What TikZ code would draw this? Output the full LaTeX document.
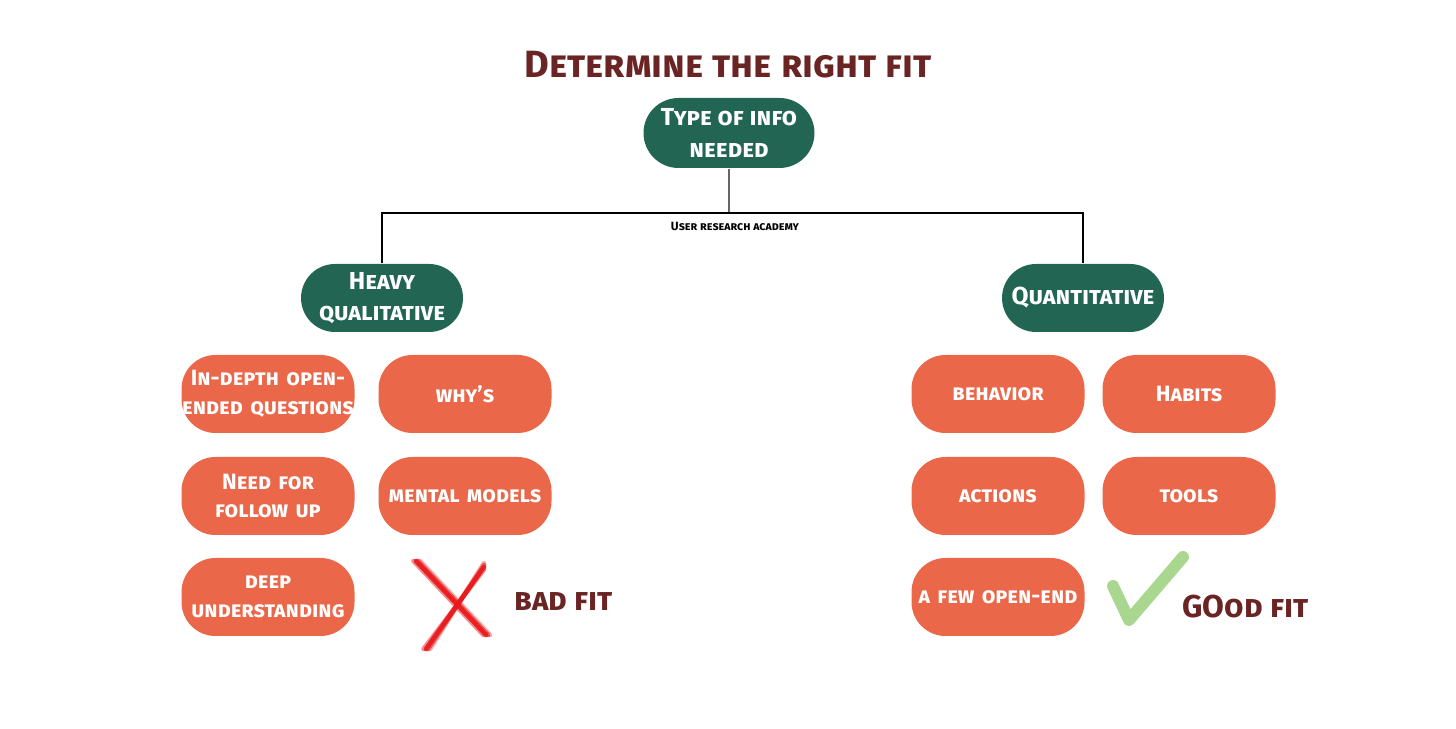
\documentclass[tikz,border=0pt]{standalone}
\usepackage{fontspec}
\setmainfont{Fira Sans}
\usetikzlibrary{positioning,shapes.misc,calc}
\definecolor{fitgreen}{HTML}{226552}
\definecolor{fitorange}{HTML}{EA6749}
\definecolor{fitmaroon}{HTML}{6B2424}
\definecolor{fitred}{HTML}{E8191B}
\definecolor{fitcheck}{HTML}{A9D78F}
\newcommand{\fitline}[1]{\makebox[1.69cm]{#1}}
\begin{document}
\begin{tikzpicture}[
    catbox/.style={rounded rectangle, fill=fitgreen, text=white, minimum width=1.69cm,
                 minimum height=0.68cm, align=center, font=\fontsize{7}{9}\selectfont\bfseries\scshape, inner sep=1pt},
    itembox/.style={rectangle, rounded corners=0.34cm, fill=fitorange, text=white, minimum width=1.73cm,
                 text width=1.69cm, minimum height=0.78cm, align=center,
                 font=\fontsize{6.3}{8.2}\selectfont\bfseries\scshape, inner sep=0.2mm},
    fitlbl/.style={font=\fontsize{9}{11}\selectfont\bfseries\scshape, text=fitmaroon},
    link/.style={line width=0.3pt}
]
    \useasboundingbox (0,0) rectangle (14.56,7.28);

    \node[font=\fontsize{10.8}{13}\selectfont\bfseries\scshape, text=fitmaroon] (title) at (7.28,6.63) {Determine the right fit};

    \node[catbox, minimum width=1.78cm, minimum height=0.70cm] (root)  at (7.29,5.95) {Type of info\\needed};
    \node[catbox] (heavy) at (3.82,4.30) {Heavy\\qualitative};
    \node[catbox] (quant) at (10.83,4.30) {Quantitative};

    \coordinate (bus) at (7.29,5.15);
    \draw[link, gray!80!black] (root.south) -- (bus);
    \draw[link] (heavy.north) -- (heavy.north |- bus) -- (quant.north |- bus) -- (quant.north);
    \node[font=\fontsize{3.4}{4}\selectfont\bfseries\scshape] (credit) at (7.35,5.02) {User research academy};

    % qualitative side
    \node[itembox] (depth)  at (2.68,3.34) {\fitline{In-depth open-}\\\fitline{ended questions}};
    \node[itembox] (whys)   at (4.65,3.34) {why's};
    \node[itembox] (follow) at (2.68,2.32) {Need for\\follow up};
    \node[itembox] (mental) at (4.65,2.32) {mental models};
    \node[itembox] (deep)   at (2.68,1.31) {deep\\understanding};

    % quantitative side
    \node[itembox] (behav)  at (9.98,3.34) {behavior};
    \node[itembox] (habits) at (11.89,3.34) {Habits};
    \node[itembox] (acts)   at (9.98,2.32) {actions};
    \node[itembox] (tools)  at (11.89,2.32) {tools};
    \node[itembox] (few)    at (9.98,1.31) {a few open-end};

    % bad fit mark
    \coordinate (cross) at (4.50,1.23);
    \foreach \d/\o in {0/0.9,0.02/0.6,-0.025/0.5,0.04/0.35} {
        \draw[fitred, opacity=\o, line width=1.3pt, line cap=round]
            ($(cross)+(-0.34+\d,0.44)$) -- ($(cross)+(0.36+\d,-0.30)$);
        \draw[fitred, opacity=\o, line width=1.3pt, line cap=round]
            ($(cross)+(0.34,0.38+\d)$) -- ($(cross)+(-0.24+\d,-0.44)$);
    }
    \node[fitlbl, anchor=west] (bad) at (5.02,1.26) {bad fit};

    % good fit mark
    \coordinate (check) at (11.35,1.35);
    \draw[fitcheck, line width=3.4pt, line cap=round, line join=round]
        ($(check)+(-0.22,0.07)$) -- ($(check)+(-0.06,-0.27)$) -- ($(check)+(0.48,0.36)$);
    \node[fitlbl, anchor=west] (good) at (11.70,1.21) {GOod fit};
\end{tikzpicture}
\end{document}
